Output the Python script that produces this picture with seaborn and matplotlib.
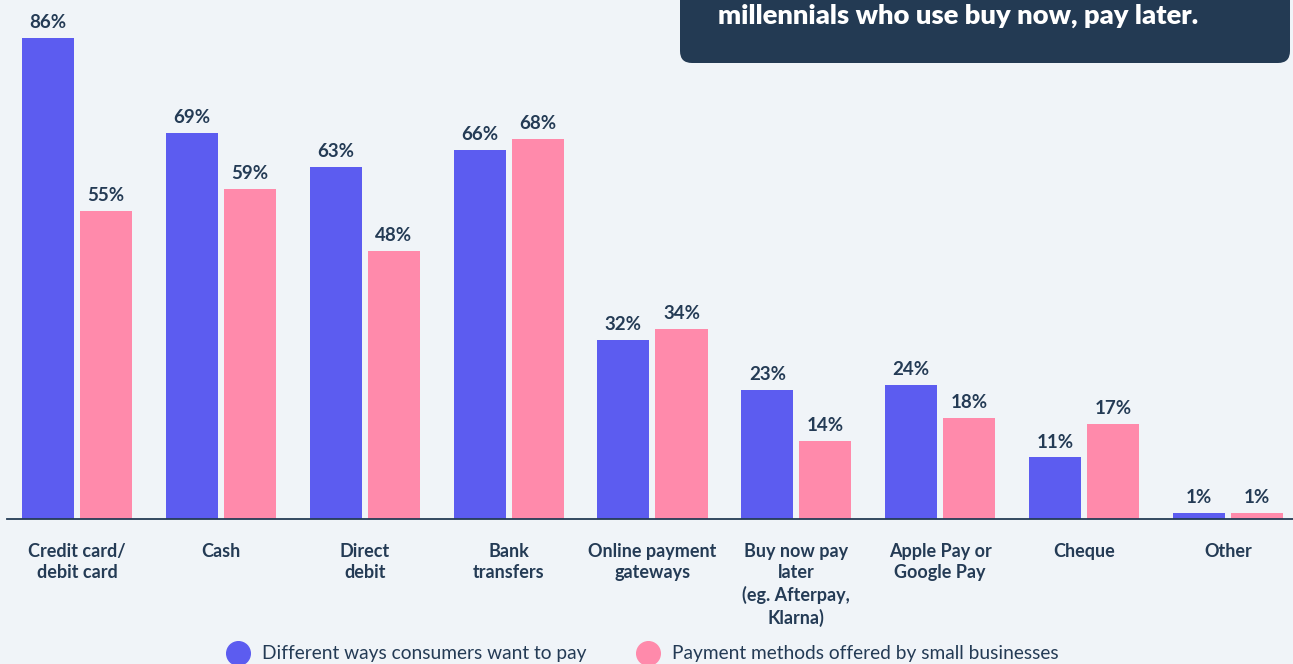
import matplotlib
matplotlib.use("Agg")
import matplotlib.pyplot as plt
from matplotlib.patches import FancyBboxPatch
from matplotlib.lines import Line2D
import seaborn as sns
import pandas as pd

categories = ["Credit card/\ndebit card", "Cash", "Direct\ndebit", "Bank\ntransfers",
              "Online payment\ngateways", "Buy now pay\nlater\n(eg. Afterpay,\nKlarna)",
              "Apple Pay or\nGoogle Pay", "Cheque", "Other"]
consumers = [86, 69, 63, 66, 32, 23, 24, 11, 1]
businesses = [55, 59, 48, 68, 34, 14, 18, 17, 1]
series_names = ["Different ways consumers want to pay", "Payment methods offered by small businesses"]
box_text = "millennials who use buy now, pay later."

BG = "#f0f4f8"
BLUE = "#5c5cf0"
PINK = "#ff8aab"
NAVY = "#243b55"
BOXC = "#233a53"

df = pd.DataFrame({
    "category": categories * 2,
    "value": consumers + businesses,
    "series": [series_names[0]] * len(categories) + [series_names[1]] * len(categories),
})

sns.set_theme(style="white")
plt.rcParams["font.family"] = ["Lato", "DejaVu Sans"]

W, H = 1293, 664
fig = plt.figure(figsize=(W / 100, H / 100), dpi=100, facecolor=BG)
ax = fig.add_axes([7 / W, 145 / H, (W - 7) / W, 519 / H])
ax.set_facecolor(BG)

sns.barplot(data=df, x="category", y="value", hue="series", order=categories,
            hue_order=series_names, palette=[BLUE, PINK], width=0.807, gap=0.103,
            saturation=1, ax=ax, legend=False, errorbar=None, linewidth=0)

ax.set_xlim(-0.486, 8.452)
ax.set_ylim(0, 92.8)
for c in ax.containers:
    ax.bar_label(c, labels=[f"{v:.0f}%" for v in c.datavalues], padding=5,
                 fontsize=13.5, fontweight="bold", color=NAVY)

for s in ["top", "right", "left"]:
    ax.spines[s].set_visible(False)
ax.spines["bottom"].set_color(NAVY)
ax.spines["bottom"].set_linewidth(1.3)
ax.set_yticks([])
ax.set_xlabel("")
ax.set_ylabel("")
ax.tick_params(axis="x", length=0, pad=17)
for t in ax.get_xticklabels():
    t.set_fontsize(13)
    t.set_fontweight("bold")
    t.set_color(NAVY)
    t.set_verticalalignment("top")
    t.set_linespacing(1.32)

# legend
handles = [Line2D([], [], marker="o", linestyle="", markersize=17, color=BLUE),
           Line2D([], [], marker="o", linestyle="", markersize=17, color=PINK)]
leg = fig.legend(handles, series_names, loc="center", bbox_to_anchor=(639 / W, (H - 654) / H),
                 ncol=2, frameon=False, fontsize=13.8, handletextpad=0.25,
                 columnspacing=2.2, labelcolor=NAVY)

# box top right
bx = fig.add_axes([680 / W, (H - 63) / H, 610 / W, 80 / H])
bx.set_xlim(0, 610)
bx.set_ylim(0, 80)
bx.axis("off")
bx.add_patch(FancyBboxPatch((0, 0), 610, 120, boxstyle="round,pad=0,rounding_size=12",
                            facecolor=BOXC, edgecolor="none", clip_on=True))
bx.text(38, 47, box_text, color="white", fontsize=19.7, fontweight="heavy",
        va="center", ha="left")

fig.savefig("out.png", dpi=100, facecolor=BG)
